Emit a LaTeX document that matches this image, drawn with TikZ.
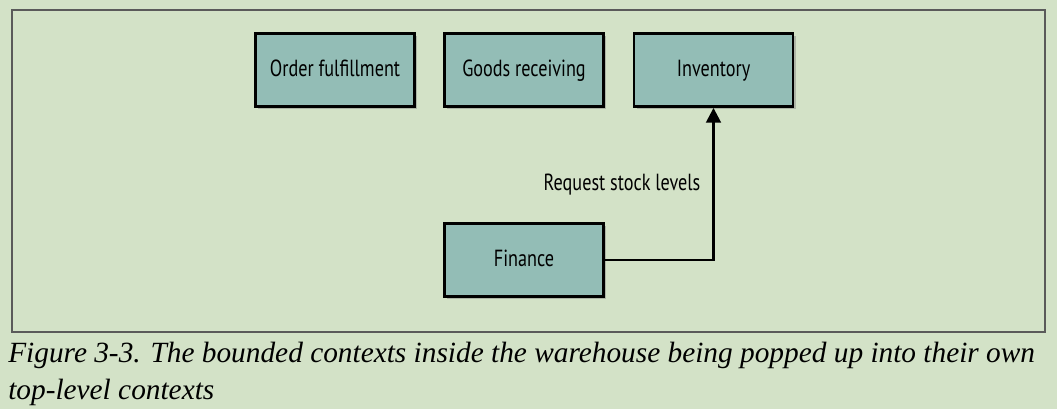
\documentclass[tikz,border=0pt]{standalone}
\usepackage{fontspec}
\setmainfont{Liberation Serif}
\setsansfont[FakeStretch=0.78]{PT Sans}
\usetikzlibrary{positioning, arrows.meta, shadows}
\definecolor{pagebg}{HTML}{D3E2C7}
\definecolor{boxfill}{HTML}{93BDB6}
\definecolor{framegray}{HTML}{5A5A5A}

\begin{document}
\begin{tikzpicture}[x=0.75pt, y=-0.75pt, font=\sffamily\fontsize{17.5}{21}\selectfont]
    % Style for the context boxes
    \tikzstyle{context box}=[rectangle, draw=black, line width=1.9pt, fill=boxfill,
        minimum width=119pt, minimum height=55pt, inner sep=0pt,
        text height=1.0em, text depth=0pt,
        drop shadow={shadow xshift=2pt, shadow yshift=-2pt, opacity=0.45}]

    % Background and frame
    \fill[pagebg] (0,0) rectangle (1057,409);
    \useasboundingbox (0,0) rectangle (1057,409);
    \draw[framegray, line width=1pt] (12,10) rectangle (1045,332);

    % Draw the top row of contexts
    \node[context box] (order) at (335,70) {Order fulfillment};
    \node[context box] (goods) at (524,70) {Goods receiving};
    \node[context box] (inventory) at (713.5,70) {Inventory};

    % Draw the finance context below
    \node[context box] (finance) at (524,260) {Finance};

    % Draw the request arrow
    \draw[line width=1.9pt, -{Triangle[length=11pt, width=11pt]}] (finance.east) -| (inventory.south);
    \node (request) at (622,185) {Request stock levels};

    % Caption
    \node[anchor=base west, inner sep=0pt, font=\rmfamily\itshape\fontsize{22}{27}\selectfont]
        (caption1) at (8,363) {Figure 3-3. The bounded contexts inside the warehouse being popped up into their own};
    \node[anchor=base west, inner sep=0pt, font=\rmfamily\itshape\fontsize{22}{27}\selectfont]
        (caption2) at (8,400) {top-level contexts};
\end{tikzpicture}
\end{document}
